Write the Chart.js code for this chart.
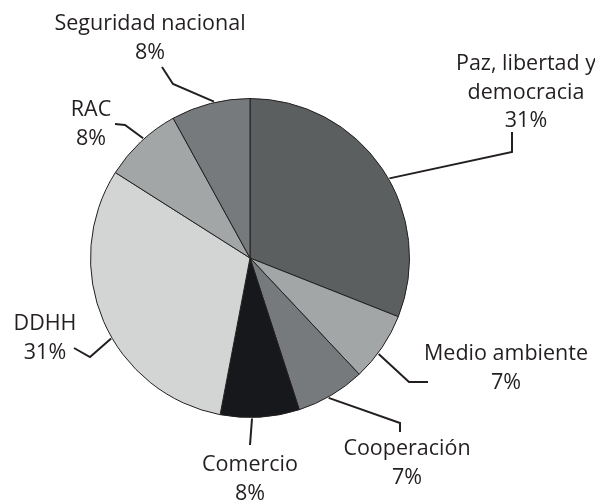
<!DOCTYPE html>
<html><head><meta charset="utf-8">
<script src="https://cdn.jsdelivr.net/npm/chart.js@4/dist/chart.umd.min.js"></script>
<style>html,body{margin:0;padding:0;background:#fff;}canvas{display:block;}</style>
</head><body>
<canvas id="c" width="595" height="502"></canvas>
<script>
const categories = ["Paz, libertad y democracia","Medio ambiente","Cooperación","Comercio","DDHH","RAC","Seguridad nacional"];
const labelLines = [["Paz, libertad y","democracia"],["Medio ambiente"],["Cooperación"],["Comercio"],["DDHH"],["RAC"],["Seguridad nacional"]];
const values = [31,7,7,8,31,8,8];
const colors = ["#5c5f60","#a3a6a7","#777a7c","#16181c","#d3d5d4","#a3a6a7","#777a7c"];

// label layout: text centre of first line, elbow points of leader, angle fraction for leader start
const layout = [
  {tx:526, ty:64,  pts:[[512,152],[512,132]], f:0.54},
  {tx:506, ty:354, pts:[[409,382],[428,382]], f:0.6},
  {tx:407, ty:449, pts:[[400,423],[400,432]], f:0.55},
  {tx:250, ty:465, pts:[[250,445]], f:0.6},
  {tx:45,  ty:324, pts:[[90,357],[74,348]], f:0.44},
  {tx:91,  ty:110, pts:[[125,125],[115,124]], f:0.55},
  {tx:150, ty:24,  pts:[[173,84],[162,67]], f:0.55}
];

function draw(){
const labelPlugin = {
  id:'labels',
  afterDatasetsDraw(chart){
    const ctx = chart.ctx;
    const meta = chart.getDatasetMeta(0);
    ctx.save();
    meta.data.forEach((arc,i)=>{
      const L = layout[i];
      const a = arc.startAngle + (arc.endAngle-arc.startAngle)*L.f;
      const r = arc.outerRadius + 1;
      const sx = arc.x + Math.cos(a)*r, sy = arc.y + Math.sin(a)*r;
      ctx.beginPath();
      ctx.moveTo(sx,sy);
      L.pts.forEach(p=>ctx.lineTo(p[0],p[1]));
      ctx.strokeStyle="#231f20"; ctx.lineWidth=2; ctx.lineJoin="miter";
      ctx.stroke();
      ctx.fillStyle="#231f20";
      ctx.font='21.5px "Open Sans"';
      ctx.textAlign="center"; ctx.textBaseline="middle";
      const lines = labelLines[i].concat([values[i]+"%"]);
      lines.forEach((t,k)=>ctx.fillText(t, L.tx, L.ty + k*28.5));
    });
    ctx.restore();
  }
};

new Chart(document.getElementById('c'), {
  type:'pie',
  data:{labels:categories, datasets:[{data:values, backgroundColor:colors, borderColor:"#231f20", borderWidth:1}]},
  options:{
    responsive:false, animation:false,
    layout:{padding:{left:90,right:185,top:98,bottom:84}},
    plugins:{legend:{display:false}, tooltip:{enabled:false}}
  },
  plugins:[labelPlugin]
});
}
if (document.fonts && document.fonts.load) {
  document.fonts.load('21.5px "Open Sans"').then(draw, draw);
} else draw();
</script>
</body></html>
